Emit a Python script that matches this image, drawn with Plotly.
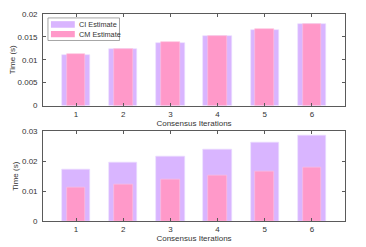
import plotly.graph_objects as go

iterations = [1, 2, 3, 4, 5, 6]
ci_top = [0.0110, 0.0123, 0.0137, 0.0151, 0.0166, 0.0178]
cm_top = [0.0112, 0.0124, 0.0138, 0.0153, 0.0167, 0.0178]
ci_bottom = [0.0173, 0.0197, 0.0217, 0.0241, 0.0264, 0.0286]
cm_bottom = [0.0112, 0.0124, 0.0138, 0.0153, 0.0167, 0.0178]
series_names = ["CI Estimate", "CM Estimate"]

CI_COLOR = "#D9B5FF"
CM_COLOR = "#FF99C9"
AX_COLOR = "#5a5a5a"
TXT = "#333333"
FONT = "Liberation Sans, Arial, sans-serif"

# the page body has an 8px default margin; work in window pixel coordinates
OFF = 8
W, H = 366 - OFF, 247 - OFF
L, R, T, B = 41 - OFF, 21, 10 - OFF, 26
pw, ph = W - L - R, H - T - B

def px(x):
    return (x - OFF - L) / pw

def py(y):
    return 1 - (y - OFF - T) / ph

fig = go.Figure()
fig.add_trace(go.Bar(x=iterations, y=ci_top, width=0.6, marker=dict(color=CI_COLOR, line=dict(color="#EBDDFF", width=0.6)),
                     name=series_names[0], xaxis="x", yaxis="y", showlegend=False))
fig.add_trace(go.Bar(x=iterations, y=cm_top, width=0.4, marker=dict(color=CM_COLOR, line=dict(color="#FFC2DE", width=0.6)),
                     name=series_names[1], xaxis="x", yaxis="y", showlegend=False))
fig.add_trace(go.Bar(x=iterations, y=ci_bottom, width=0.6, marker=dict(color=CI_COLOR, line=dict(color="#EBDDFF", width=0.6)),
                     name=series_names[0], xaxis="x2", yaxis="y2", showlegend=False))
fig.add_trace(go.Bar(x=iterations, y=cm_bottom, width=0.4, marker=dict(color=CM_COLOR, line=dict(color="#FFC2DE", width=0.6)),
                     name=series_names[1], xaxis="x2", yaxis="y2", showlegend=False))

top_dom = [py(103.3), 1.0]
bot_dom = [0.0, py(129.7)]

common_x = dict(range=[0.3, 6.7], tickvals=iterations, ticks="inside", ticklen=3, tickcolor=AX_COLOR,
                showline=True, linecolor=AX_COLOR, linewidth=0.7, mirror="ticks", showgrid=False, zeroline=False,
                tickfont=dict(size=8, color=TXT), ticklabelstandoff=1,
                title=dict(text="Consensus Iterations", font=dict(size=8, color=TXT), standoff=1))
common_y = dict(ticks="inside", ticklen=3, tickcolor=AX_COLOR, showline=True, linecolor=AX_COLOR, linewidth=0.7,
                mirror="ticks", showgrid=False, zeroline=False, tickfont=dict(size=8, color=TXT), ticklabelstandoff=3,
                title=dict(text="Time (s)", font=dict(size=8, color=TXT), standoff=2))

fig.update_layout(
    width=W, height=H,
    margin=dict(l=L, r=R, t=T, b=B),
    paper_bgcolor="white", plot_bgcolor="white",
    font=dict(family=FONT, size=8, color=TXT),
    barmode="overlay",
    bargap=0,
    xaxis=dict(domain=[0, 1], anchor="y", **common_x),
    yaxis=dict(domain=top_dom, anchor="x", range=[0, 0.02], dtick=0.005, **common_y),
    xaxis2=dict(domain=[0, 1], anchor="y2", **common_x),
    yaxis2=dict(domain=bot_dom, anchor="x2", range=[0, 0.03], dtick=0.01, **common_y),
)

# Legend box drawn in the top axes (MATLAB-style wide swatches)
shapes = [
    dict(type="rect", xref="paper", yref="paper", x0=px(46), x1=px(118), y0=py(37), y1=py(14),
         line=dict(color="#808080", width=0.7), fillcolor="white", layer="above"),
    dict(type="rect", xref="paper", yref="paper", x0=px(49), x1=px(73), y0=py(24), y1=py(17.3),
         line=dict(width=0), fillcolor=CI_COLOR, layer="above"),
    dict(type="rect", xref="paper", yref="paper", x0=px(49), x1=px(73), y0=py(33.7), y1=py(27.3),
         line=dict(width=0), fillcolor=CM_COLOR, layer="above"),
]
annotations = [
    dict(text=series_names[0], xref="paper", yref="paper", x=px(75.5), y=py(20.7), xanchor="left", yanchor="middle",
         showarrow=False, font=dict(size=7.3, color=TXT)),
    dict(text=series_names[1], xref="paper", yref="paper", x=px(75.5), y=py(30.5), xanchor="left", yanchor="middle",
         showarrow=False, font=dict(size=7.3, color=TXT)),
]
fig.update_layout(shapes=shapes, annotations=annotations)

fig.write_html("out.html", config={"displayModeBar": False})
